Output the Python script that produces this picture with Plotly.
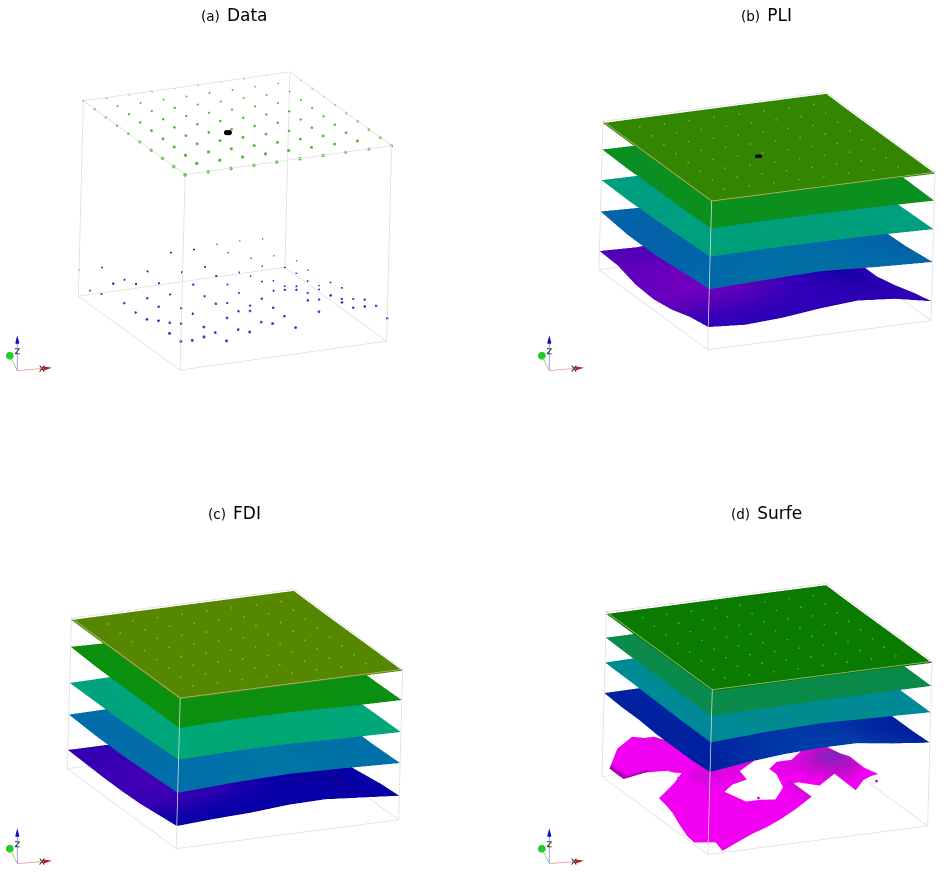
import plotly.graph_objects as go

_ = None
GRID10 = [0.0, 0.111, 0.222, 0.333, 0.444, 0.556, 0.667, 0.778, 0.889, 1.0]
AXIS5 = [0.0, 0.25, 0.5, 0.75, 1.0]
AXIS7 = [0.0, 0.167, 0.333, 0.5, 0.667, 0.833, 1.0]
AXIS16 = [0.0, 0.067, 0.133, 0.2, 0.267, 0.333, 0.4, 0.467, 0.533, 0.6, 0.667, 0.733, 0.8, 0.867, 0.933, 1.0]

TITLE_LETTERS = ["(a)", "(b)", "(c)", "(d)"]
TITLE_NAMES = ["Data", "PLI", "FDI", "Surfe"]

# bottom observations: rows are y index, columns x index
BOTTOM_POINTS_Z = [
    [.148, .153, .117, .146, .172, .135, .200, .231, .194, .117],
    [.146, .094, .117, .116, .138, .152, .216, .225, .146, .139],
    [.169, .137, .104, .134, .153, .153, .228, .162, .149, .129],
    [.134, .100, .130, .164, .110, .157, .186, .154, .124, .090],
    [.127, .140, .116, .161, .110, .080, .140, .146, .113, .105],
    [.133, .141, .144, .178, .206, .103, .144, .105, .114, .090],
    [.190, .173, .160, .200, .211, .103, .130, .090, .112, .032],
    [.095, .152, .178, .258, .257, .105, .107, .123, .100, .070],
    [.071, .092, .072, .059, .098, .111, .166, .122, .117, .075],
    [.136, .131, .052, .078, .158, .157, .167, .168, .162, .120],
]
TOP_POINT_Z = 0.999
BLACK_MARK_X = [0.404, 0.41, 0.416]
BLACK_MARK_Y = [0.414, 0.412, 0.41]
BLACK_MARK_Z = [0.999, 0.999, 0.999]

B_TOP = [[.990, .991, .992, .991, .990], [.989, .991, .992, .991, .990], [.988, .990, .991, .990, .989],
         [.987, .989, .990, .989, .988], [.988, .989, .990, .990, .990]]
B_L4 = [[.815, .82, .82, .815, .808], [.81, .815, .82, .815, .81], [.81, .81, .815, .81, .805],
        [.805, .81, .81, .805, .80], [.81, .805, .805, .80, .80]]
B_L3 = [[.625, .63, .63, .625, .616], [.615, .62, .625, .62, .61], [.605, .61, .615, .61, .60],
        [.60, .605, .61, .60, .595], [.604, .60, .60, .595, .59]]
B_L2 = [[.406, .42, .43, .41, .395], [.39, .41, .42, .41, .37], [.37, .39, .41, .39, .36],
        [.37, .38, .39, .38, .36], [.393, .38, .38, .38, .37]]
B_L1 = [[.152, .135, .150, .180, .200, .180, .131],
        [.130, .130, .140, .160, .190, .170, .100],
        [.090, .110, .130, .150, .170, .140, .060],
        [.070, .100, .130, .140, .150, .120, .030],
        [.080, .110, .140, .150, .130, .100, .030],
        [.120, .130, .150, .140, .120, .090, .050],
        [.127, .120, .140, .140, .130, .110, .080]]
L1_SHADE = [[.30, .25, .25, .30, .30, .25, .30],
            [.45, .40, .35, .30, .25, .20, .30],
            [.70, .70, .60, .40, .20, .10, .30],
            [.80, .90, .90, .60, .20, .00, .30],
            [.80, .90, 1.0, .70, .30, .10, .30],
            [.70, .70, .80, .60, .30, .20, .30],
            [.60, .60, .60, .50, .30, .30, .30]]

C_TOP = B_TOP
C_L4 = [[.80, .81, .81, .80, .795], [.80, .81, .81, .80, .79], [.80, .805, .805, .80, .79],
        [.80, .805, .80, .795, .79], [.81, .80, .80, .79, .79]]
C_L3 = [[.59, .60, .60, .59, .583], [.58, .59, .60, .59, .58], [.57, .585, .59, .585, .575],
        [.57, .58, .585, .58, .57], [.57, .575, .58, .575, .57]]
C_L2 = [[.37, .39, .40, .39, .377], [.36, .38, .40, .39, .37], [.35, .37, .39, .38, .37],
        [.35, .37, .38, .37, .36], [.36, .365, .37, .365, .36]]
C_L1 = [[.150, .165, .175, .195, .200, .180, .160],
        [.135, .150, .170, .185, .190, .170, .150],
        [.120, .140, .160, .170, .170, .150, .130],
        [.115, .135, .150, .160, .150, .130, .110],
        [.115, .130, .140, .140, .130, .120, .105],
        [.120, .125, .130, .130, .125, .110, .100],
        [.125, .125, .125, .120, .115, .105, .100]]

D_TOP = B_TOP
D_L3 = [[.84, .845, .85, .85, .85], [.84, .845, .85, .85, .85], [.84, .845, .85, .85, .85],
        [.84, .845, .85, .85, .85], [.844, .845, .85, .85, .85]]
D_L2 = [[.68, .70, .71, .70, .69], [.68, .70, .71, .70, .69], [.685, .70, .71, .70, .69],
        [.69, .70, .705, .70, .69], [.693, .70, .70, .695, .69]]
D_L1 = [[.50, .53, .55, .56, .56, .53, .506],
        [.49, .52, .54, .55, .55, .52, .50],
        [.49, .51, .53, .54, .54, .52, .50],
        [.49, .51, .52, .53, .53, .52, .50],
        [.50, .51, .52, .52, .52, .51, .50],
        [.50, .51, .51, .52, .51, .51, .50],
        [.508, .51, .51, .51, .51, .505, .50]]
D_BLOB = [
    [_, .01, .05, .09, .12, .16, .21, .27, _, _, _, _, _, _, _, _],
    [_, .03, .07, .11, .14, .18, .23, .27, _, _, _, _, _, _, _, _],
    [.01, .05, .09, .13, .16, .18, .20, .27, _, _, _, .20, _, _, _, _],
    [.02, .07, .11, .15, .18, .18, .17, .27, _, .22, .28, .28, .22, _, _, _],
    [.05, .14, .24, .22, _, _, _, .20, .22, .26, .32, .33, .28, .20, _, _],
    [.09, .19, .26, .25, .22, .24, _, .25, .24, .27, .33, .34, .30, .22, .17, _],
    [.11, .20, .27, .27, .26, .26, _, .25, .25, .27, .30, .32, .28, .20, _, _],
    [.12, .20, .25, .26, .26, .26, .25, _, .25, .25, .27, .30, .27, .20, _, _],
    [_, _, .22, .25, .26, .26, .25, .24, _, _, .25, .28, .26, _, _, _],
    [_, _, .19, .22, .24, .25, .24, .20, _, _, _, .25, .24, _, _, _],
    [_, _, .17, .21, .23, .24, .22, _, _, _, _, .24, .22, _, _, _],
    [_, .14, .19, .22, .23, .22, _, _, _, _, _, _, _, _, _, _],
    [.08, .17, .22, .24, .24, .20, _, _, _, _, _, _, _, _, _, _],
    [.08, .19, .24, .25, .23, _, _, _, _, _, _, _, _, _, _, _],
    [.08, .20, .24, .24, .20, _, _, _, _, _, _, _, _, _, _, _],
    [_, .16, .22, .20, _, _, _, _, _, _, _, _, _, _, _, _],
]
SPECK_X = [.906, .879, .823, .112, .156, .360]
SPECK_Y = [.294, .317, .281, .518, .514, .276]
SPECK_Z = [.15, .20, .25, .20, .20, .15]

SCALE = 1 / 230.0
K = 1.425
ORTHO_EYE = 2.0


def eye(v):
    n = sum(c * c for c in v) ** .5
    return dict(x=v[0] / n * ORTHO_EYE, y=v[1] / n * ORTHO_EYE, z=v[2] / n * ORTHO_EYE)


CAM_A = dict(eye=eye((-.4154, -.8446, .338)), up=dict(x=.1262, y=.3145, z=.9409), projection=dict(type="orthographic"),
             center=dict(x=0, y=0, z=0))
CAM_B = dict(eye=eye((-.4054, -.8525, .3298)), up=dict(x=.1174, y=.3092, z=.9437), projection=dict(type="orthographic"),
             center=dict(x=0, y=0, z=0))
CAM_T = dict(eye=eye((-.18, -.90, .398)), up=dict(x=.08, y=.39, z=.92), projection=dict(type="orthographic"),
             center=dict(x=0, y=0, z=0))

W, H = 946, 880
HALF_W, HALF_H = 178, 161
PANELS = [
    dict(cx=235, cy=221, asp=(229.8, 235.3, 208.3), cam=CAM_A, edge="#dedede"),
    dict(cx=767, cy=221, asp=(247.1, 258.7, 157.9), cam=CAM_B, edge="#b4bc94"),
    dict(cx=235, cy=719, asp=(246.0, 259.0, 160.0), cam=CAM_B, edge="#b4bc94"),
    dict(cx=767, cy=719, asp=(243.0, 252.0, 175.0), cam=CAM_B, edge="#a8c098"),
]
TITLE_POS = [(234, 15), (766, 15), (234, 513), (766, 513)]
TRIAD_ORIGINS = [(17, 371), (549, 371), (17, 864), (549, 864)]

BOX_X = [1, 1, 0, _, 0, 1, 1, 0, 0, _, 0, 0, _, 1, 1, _, 1, 1, _, 0, 0]
BOX_Y = [0, 1, 1, _, 0, 0, 1, 1, 0, _, 0, 0, _, 0, 0, _, 1, 1, _, 1, 1]
BOX_Z = [1, 1, 1, _, 0, 0, 0, 0, 0, _, 0, 1, _, 0, 1, _, 0, 1, _, 0, 1]
TOP_FRONT_X = [1, 0, 0]
TOP_FRONT_Y = [0, 0, 1]
TOP_FRONT_Z = [1, 1, 1]

SCALE_B = [[0, "#1a40b0"], [.25, "#1a40b0"], [.40, "#0068a8"], [.61, "#00a080"], [.81, "#0a8f20"],
           [.98, "#338600"], [1, "#338600"]]
SCALE_C = [[0, "#1060b0"], [.25, "#1060b0"], [.38, "#0070a8"], [.59, "#00a878"], [.80, "#0a9010"],
           [.98, "#558800"], [1, "#558800"]]
SCALE_D = [[0, "#0020a0"], [.50, "#0020a0"], [.56, "#0040a8"], [.69, "#008a98"], [.85, "#0a8a48"],
           [.98, "#0a7a00"], [1, "#0a7a00"]]
SHADE_B = [[0, "#1400a0"], [.3, "#3000b8"], [.6, "#5000b8"], [1, "#7a00c0"]]
SHADE_C = [[0, "#0a009a"], [.3, "#0800a8"], [.6, "#3000b0"], [1, "#4800b8"]]
BLOB_SCALE = [[0, "#9c009c"], [.15, "#ff00ff"], [.7, "#ff00ff"], [.86, "#c010d0"], [1, "#7030c0"]]

fig = go.Figure()
layout_updates = {}
annotations = []


def box_scene(i, name, p):
    x0 = (p["cx"] - HALF_W) / W
    x1 = min((p["cx"] + HALF_W) / W, 1)
    y0 = max(1 - (p["cy"] + HALF_H) / H, 0)
    y1 = 1 - (p["cy"] - HALF_H) / H
    hidden = dict(visible=False, range=[0, 1], showgrid=False, zeroline=False, showticklabels=False,
                  showbackground=False, showspikes=False, title="")
    layout_updates[name] = dict(
        domain=dict(x=[x0, x1], y=[y0, y1]), camera=p["cam"], aspectmode="manual",
        aspectratio=dict(x=p["asp"][0] * SCALE * K, y=p["asp"][1] * SCALE * K, z=p["asp"][2] * SCALE * K),
        xaxis=hidden, yaxis=hidden, zaxis=hidden, bgcolor="rgba(0,0,0,0)")


def add_box(name, edge):
    fig.add_trace(go.Scatter3d(x=BOX_X, y=BOX_Y, z=BOX_Z, mode="lines", scene=name, hoverinfo="skip",
                               line=dict(color="#dedede", width=1.5), showlegend=False))
    fig.add_trace(go.Scatter3d(x=TOP_FRONT_X, y=TOP_FRONT_Y, z=TOP_FRONT_Z, mode="lines", scene=name, hoverinfo="skip",
                               line=dict(color=edge, width=1.5), showlegend=False))


def add_surface(name, grid, axis, colorscale, shade=None):
    if shade is None:
        fig.add_trace(go.Surface(x=axis, y=axis, z=grid, scene=name, colorscale=colorscale, cmin=0, cmax=1,
                                 showscale=False, hoverinfo="skip",
                                 lighting=dict(ambient=1, diffuse=0, specular=0, fresnel=0)))
    else:
        fig.add_trace(go.Surface(x=axis, y=axis, z=grid, surfacecolor=shade, scene=name, colorscale=colorscale,
                                 cmin=0, cmax=1, showscale=False, hoverinfo="skip",
                                 lighting=dict(ambient=1, diffuse=0, specular=0, fresnel=0)))


def add_top_dots(name, color, size):
    xs, ys, zs = [], [], []
    for yv in GRID10[1:-1]:
        for xv in GRID10[1:-1]:
            xs.append(xv)
            ys.append(yv)
            zs.append(TOP_POINT_Z)
    fig.add_trace(go.Scatter3d(x=xs, y=ys, z=zs, mode="markers", scene=name, hoverinfo="skip",
                               marker=dict(color=color, size=size, line=dict(width=0, color=color)), showlegend=False))


def add_black(name, size):
    fig.add_trace(go.Scatter3d(x=BLACK_MARK_X, y=BLACK_MARK_Y, z=BLACK_MARK_Z, mode="markers", scene=name,
                               hoverinfo="skip", marker=dict(color="#000000", size=size,
                                                             line=dict(width=0, color="#000000")), showlegend=False))


for i, p in enumerate(PANELS):
    name = "scene" if i == 0 else f"scene{i + 1}"
    box_scene(i, name, p)
    add_box(name, p["edge"])

# panel a
xs_t, ys_t, zs_t, ss_t, xs_b, ys_b, zs_b, ss_b = [], [], [], [], [], [], [], []
for j, yv in enumerate(GRID10):
    for k, xv in enumerate(GRID10):
        xs_t.append(xv); ys_t.append(yv); zs_t.append(TOP_POINT_Z)
        ss_t.append(4.5 - 2.8 * (yv * .7 + xv * .3))
        xs_b.append(xv); ys_b.append(yv); zs_b.append(BOTTOM_POINTS_Z[j][k])
        ss_b.append(3.8 - 2.2 * (yv * .7 + xv * .3))
for factor in (1, .55):
    fig.add_trace(go.Scatter3d(x=xs_t, y=ys_t, z=zs_t, mode="markers", scene="scene", hoverinfo="skip",
                               marker=dict(color="#2cb010", size=[s * factor for s in ss_t],
                                           line=dict(width=0, color="#2cb010")), showlegend=False))
    fig.add_trace(go.Scatter3d(x=xs_b, y=ys_b, z=zs_b, mode="markers", scene="scene", hoverinfo="skip",
                               marker=dict(color="#3a00c0", size=[s * factor for s in ss_b],
                                           line=dict(width=0, color="#3a00c0")), showlegend=False))
add_black("scene", 3.0)

# panel b
add_surface("scene2", B_L1, AXIS7, SHADE_B, L1_SHADE)
for g, ax in [(B_L2, AXIS5), (B_L3, AXIS5), (B_L4, AXIS5), (B_TOP, AXIS5)]:
    add_surface("scene2", g, ax, SCALE_B)
add_top_dots("scene2", "#58c818", 1.0)
add_black("scene2", 2.4)

# panel c
add_surface("scene3", C_L1, AXIS7, SHADE_C, L1_SHADE)
for g, ax in [(C_L2, AXIS5), (C_L3, AXIS5), (C_L4, AXIS5), (C_TOP, AXIS5)]:
    add_surface("scene3", g, ax, SCALE_C)
add_top_dots("scene3", "#80c81a", 1.0)

# panel d
for g, ax in [(D_L1, AXIS7), (D_L2, AXIS5), (D_L3, AXIS5), (D_TOP, AXIS5)]:
    add_surface("scene4", g, ax, SCALE_D)
add_top_dots("scene4", "#30c830", 1.0)

mx, my, mz, mc, mi, mj, mk, index = [], [], [], [], [], [], [], {}
for j, yv in enumerate(AXIS16):
    for k, xv in enumerate(AXIS16):
        val = D_BLOB[j][k]
        if val is not None:
            index[(j, k)] = len(mx)
            mx.append(xv); my.append(yv); mz.append(val)
            # rim of the far lobe is darker
            mc.append(-.06 if (j >= 11 and val <= .14) else val)
for j in range(15):
    for k in range(15):
        a, b, c, d = index.get((j, k)), index.get((j, k + 1)), index.get((j + 1, k + 1)), index.get((j + 1, k))
        if None not in (a, b, c, d):
            mi += [a, a]; mj += [b, c]; mk += [c, d]
        else:
            for tri in [(a, b, c), (a, c, d), (a, b, d), (b, c, d)]:
                if None not in tri:
                    mi.append(tri[0]); mj.append(tri[1]); mk.append(tri[2])
fig.add_trace(go.Mesh3d(x=mx, y=my, z=mz, i=mi, j=mj, k=mk, intensity=mc, colorscale=BLOB_SCALE, cmin=-.06, cmax=.36,
                        showscale=False, scene="scene4", hoverinfo="skip",
                        lighting=dict(ambient=.95, diffuse=.2, specular=.02, roughness=.7, fresnel=0),
                        lightposition=dict(x=-200, y=-400, z=1000)))
fig.add_trace(go.Scatter3d(x=SPECK_X, y=SPECK_Y, z=SPECK_Z, mode="markers", scene="scene4", hoverinfo="skip",
                           marker=dict(color="#d000d0", size=1.6, line=dict(width=0, color="#d000d0")),
                           showlegend=False))

# titles
for (tx, ty), letter, title in zip(TITLE_POS, TITLE_LETTERS, TITLE_NAMES):
    annotations.append(dict(x=tx / W, y=1 - ty / H, xref="paper", yref="paper", showarrow=False,
                            xanchor="center", yanchor="middle",
                            text=f'<span style="font-size:13.5px">{letter}</span>\u200a {title}',
                            font=dict(family="DejaVu Sans", size=17, color="#000000")))

# triads
for i, (ox, oy) in enumerate(TRIAD_ORIGINS):
    name = f"scene{i + 5}"
    def axis(rng):
        return dict(visible=False, range=rng, showgrid=False, zeroline=False, showticklabels=False,
                    showbackground=False, showspikes=False, title="")
    x_left = 0 if ox < 100 else ox - 17
    layout_updates[name] = dict(
        domain=dict(x=[x_left / W, (x_left + 70) / W], y=[1 - (oy + 13) / H, 1 - (oy - 43) / H]),
        camera=CAM_T, aspectmode="manual", aspectratio=dict(x=3.02, y=3.02, z=3.02),
        xaxis=axis([-.52, 1.68]), yaxis=axis([-.55, 1.65]), zaxis=axis([-.97, 1.23]), bgcolor="rgba(0,0,0,0)")
    fig.add_trace(go.Scatter3d(x=[0, .75], y=[0, 0], z=[0, 0], mode="lines", scene=name, hoverinfo="skip",
                               line=dict(color="#e89090", width=1.5), showlegend=False))
    fig.add_trace(go.Scatter3d(x=[0, 0], y=[0, .9], z=[0, 0], mode="lines", scene=name, hoverinfo="skip",
                               line=dict(color="#70c060", width=1.5), showlegend=False))
    fig.add_trace(go.Scatter3d(x=[0, 0], y=[0, 0], z=[0, .8], mode="lines", scene=name, hoverinfo="skip",
                               line=dict(color="#8080e0", width=1.5), showlegend=False))
    fig.add_trace(go.Cone(x=[.92], y=[0], z=[0], u=[1], v=[0], w=[0], anchor="tip", sizemode="absolute", sizeref=.22,
                          colorscale=[[0, "#c01820"], [1, "#c01820"]], showscale=False, scene=name, hoverinfo="skip",
                          lighting=dict(ambient=1, diffuse=0, specular=0)))
    fig.add_trace(go.Cone(x=[0], y=[0], z=[1.0], u=[0], v=[0], w=[1], anchor="tip", sizemode="absolute", sizeref=.22,
                          colorscale=[[0, "#1010c8"], [1, "#1010c8"]], showscale=False, scene=name, hoverinfo="skip",
                          lighting=dict(ambient=1, diffuse=0, specular=0)))
    fig.add_trace(go.Scatter3d(x=[0], y=[1.0], z=[0], mode="markers", scene=name, hoverinfo="skip",
                               marker=dict(color="#22cc22", size=4.5, line=dict(width=0, color="#22cc22")),
                               showlegend=False))
    fig.add_trace(go.Scatter3d(x=[.65, 0], y=[0, 0], z=[0, .55], mode="text", text=["x", "z"], scene=name,
                               textposition="middle center", hoverinfo="skip",
                               textfont=dict(family="DejaVu Sans", size=11, color="#222222"), showlegend=False))

fig.update_layout(width=W, height=H, margin=dict(l=0, r=0, t=0, b=0), paper_bgcolor="white",
                  plot_bgcolor="white", showlegend=False, annotations=annotations, **layout_updates)
fig.write_html("out.html", config=dict(displayModeBar=False),
               post_script="document.body.style.margin='0';document.documentElement.style.overflow='hidden';")
